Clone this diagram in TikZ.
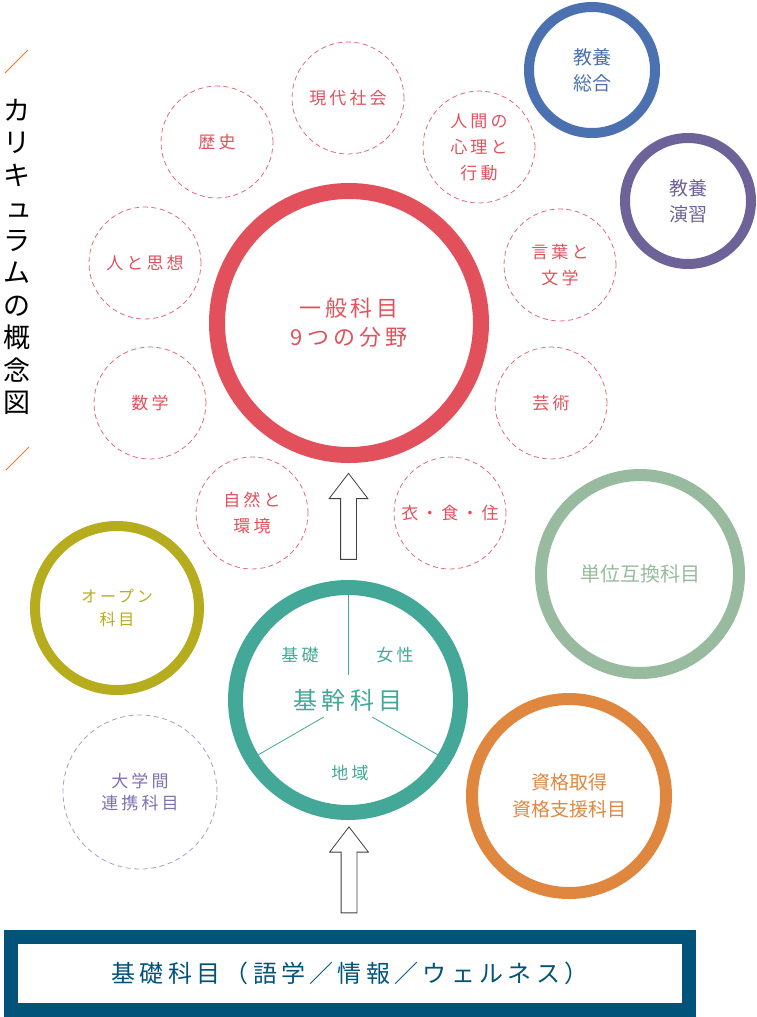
\documentclass[tikz,border=0pt]{standalone}
\usepackage{fontspec}
\setmainfont{Noto Sans CJK JP}
\newfontfamily\jpsp{Noto Sans CJK JP}[LetterSpace=18]
\usetikzlibrary{shapes.arrows,calc}

\definecolor{ippanred}{HTML}{E2505C}
\definecolor{kikanteal}{HTML}{43A898}
\definecolor{openolive}{HTML}{B5AC1E}
\definecolor{kyoyoblue}{HTML}{4B71B0}
\definecolor{ensyupurple}{HTML}{6E6399}
\definecolor{tanigreen}{HTML}{98BB9F}
\definecolor{shikakuorange}{HTML}{E0873F}
\definecolor{renkeilav}{HTML}{A99CCB}
\definecolor{renkeitext}{HTML}{7F70AE}
\definecolor{basenavy}{HTML}{02537A}
\definecolor{slashorange}{HTML}{EC7A35}

\tikzset{
  ring/.style={circle,draw,inner sep=0pt,align=center},
  field/.style={circle,draw=ippanred!85,text=ippanred,line width=0.8pt,
    dash pattern=on 5pt off 3.5pt,minimum size=112pt,inner sep=0pt,align=center,
    font=\jpsp\fontsize{17}{26}\selectfont},
  uparrow/.style={single arrow,draw=black!75,fill=white,line width=0.8pt,
    rotate=90,minimum height=86pt,inner sep=7.5pt,
    single arrow head extend=11.5pt,single arrow tip angle=75},
  kikanlabel/.style={text=kikanteal,inner sep=0pt,font=\jpsp\fontsize{17}{20}\selectfont}
}

\begin{document}
\begin{tikzpicture}[x=1pt,y=-1pt]
\useasboundingbox (0,0) rectangle (756,1017);

% title
\node[inner sep=0pt,align=center,font=\fontsize{27}{32.5}\selectfont] (title) at (17,257)
  {カ\\リ\\キ\\\hspace*{4pt}ュ\\ラ\\ム\\の\\概\\念\\図};
\draw[slashorange,line width=1pt] (5,73) -- (28,50);
\draw[slashorange,line width=1pt] (6,470) -- (29,447);

% nine fields
\node[field] (gendai) at (348,98) {現代社会};
\node[field] (rekishi) at (217,142) {歴史};
\node[field] (ningen) at (479,147) {人間の\\心理と\\行動};
\node[field] (shiso) at (145,263) {人と思想};
\node[field] (kotoba) at (560,265) {言葉と\\文学};
\node[field] (sugaku) at (150,403) {数学};
\node[field] (geijutsu) at (551,403) {芸術};
\node[field] (shizen) at (252,513) {自然と\\環境};
\node[field] (ishoku) at (450,513) {衣・食・住};

% general subjects
\node[ring,draw=ippanred,text=ippanred,line width=16pt,minimum size=264pt,
  font=\jpsp\fontsize{22}{29}\selectfont] (ippan) at (349,323) {一般科目\\9つの分野};

% core subjects
\coordinate (ycen) at (348,703);
\draw[kikanteal,line width=0.8pt] ($(ycen)+(90:28pt)$) -- ($(ycen)+(90:110pt)$);
\draw[kikanteal,line width=0.8pt] ($(ycen)+(210:28pt)$) -- ($(ycen)+(210:110pt)$);
\draw[kikanteal,line width=0.8pt] ($(ycen)+(330:28pt)$) -- ($(ycen)+(330:110pt)$);
\node[ring,draw=kikanteal,text=kikanteal,line width=15pt,minimum size=225pt,
  font=\jpsp\fontsize{24}{28}\selectfont] (kikan) at (348,700) {基幹科目};
\node[kikanlabel] (kb) at (300,655) {基礎};
\node[kikanlabel] (jo) at (395,655) {女性};
\node[kikanlabel] (ch) at (350,773) {地域};

% other subjects
\node[ring,draw=kyoyoblue,text=kyoyoblue,line width=10pt,minimum size=126pt,
  font=\fontsize{19}{26}\selectfont] (sogo) at (592,70) {教養\\総合};
\node[ring,draw=ensyupurple,text=ensyupurple,line width=10pt,minimum size=126pt,
  font=\fontsize{19}{26}\selectfont] (ensyu) at (688,201) {教養\\演習};
\node[ring,draw=openolive,text=openolive,line width=10pt,minimum size=164pt,
  font=\jpsp\fontsize{16}{23}\selectfont] (open) at (117,608) {オープン\\科目};
\node[ring,draw=tanigreen,text=tanigreen,line width=12pt,minimum size=198pt,
  font=\fontsize{20}{26}\selectfont] (tani) at (640,574) {単位互換科目};
\node[ring,draw=shikakuorange,text=shikakuorange,line width=12pt,minimum size=194pt,
  font=\fontsize{19}{27}\selectfont] (shikaku) at (569,796) {資格取得\\資格支援科目};
\node[ring,draw=renkeilav,text=renkeitext,line width=0.8pt,dash pattern=on 5pt off 3.5pt,
  minimum size=154pt,font=\jpsp\fontsize{17}{22}\selectfont] (renkei) at (140,792) {大学間\\連携科目};

% basic subjects
\node[draw=basenavy,text=basenavy,line width=14pt,minimum width=678pt,minimum height=73pt,
  inner sep=0pt,font=\jpsp\fontsize{24}{28}\selectfont] (kiso) at (350,973.5)
  {基礎科目（語学／情報／ウェルネス）};

% arrows
\node[uparrow] (arr1) at ($(kikan.north)!0.5!(ippan.south)$) {};
\node[uparrow] (arr2) at ($(kiso.north)!0.5!(kikan.south)$) {};
\end{tikzpicture}
\end{document}
